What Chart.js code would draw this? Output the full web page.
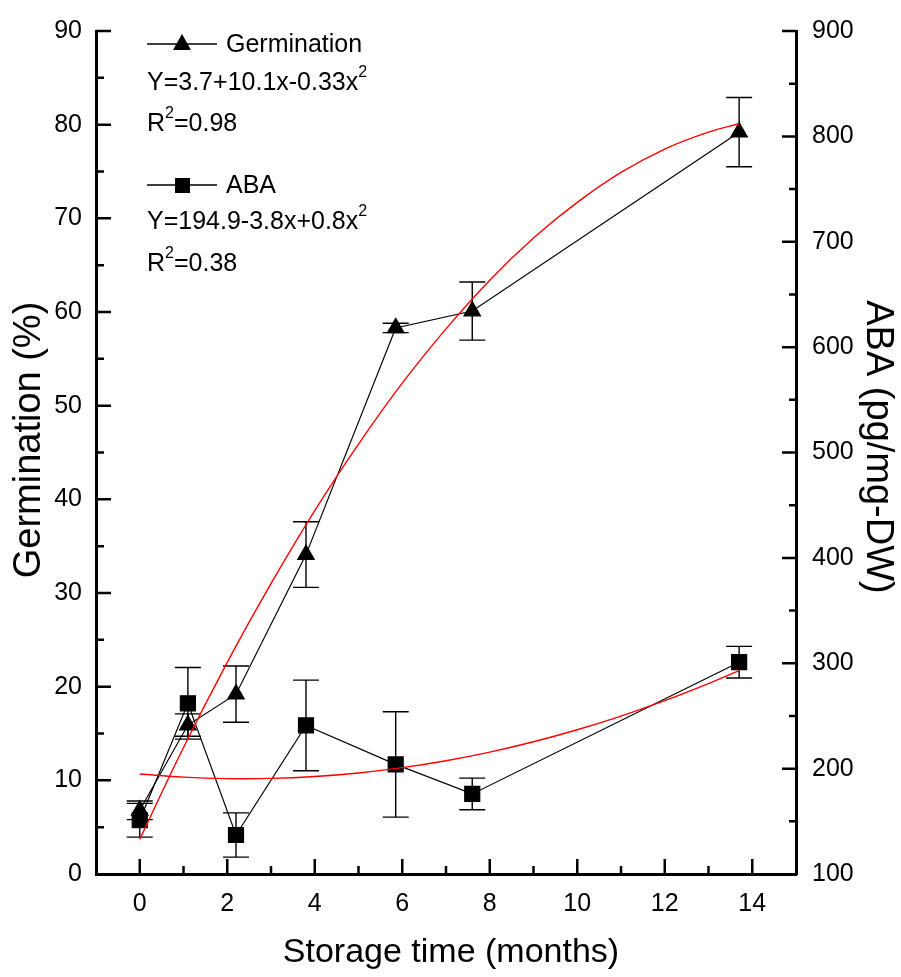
<!DOCTYPE html>
<html>
<head>
<meta charset="utf-8">
<script src="https://cdn.jsdelivr.net/npm/chart.js@4.4.1/dist/chart.umd.min.js"></script>
<style>
  html, body { margin: 0; padding: 0; background: #fff; }
</style>
</head>
<body>
<canvas id="chart" width="901" height="977"></canvas>
<script>
// storage time of each sample (months)
const storageMonths = [0, 1.1, 2.2, 3.8, 5.85, 7.6, 13.7];
const germination = [6.8, 15.9, 19.2, 34.1, 58.3, 60.1, 79.2];
const germinationErr = [1.0, 1.2, 3.0, 3.5, 0.5, 3.1, 3.7];
const aba = [151, 262, 137, 241, 204, 176, 301];
const abaErr = [16, 34, 21, 43, 50, 15, 15];

// red fitted curves
const fitMonths = [0, 1, 2, 3, 4, 5, 6, 7, 8, 9, 10, 11, 12, 13, 13.7];
const germinationFit = [3.7, 13.5, 22.6, 31.0, 38.8, 45.9, 52.4, 58.2, 63.4, 67.9, 71.7, 74.9, 77.4, 79.2, 80.1];
const abaFit = [194.9, 191.9, 190.5, 190.7, 192.5, 195.9, 200.9, 207.5, 215.7, 225.5, 236.9, 249.9, 264.5, 280.7, 293.0];

// tick labels
const xTicks = [0, 2, 4, 6, 8, 10, 12, 14];
const germTicks = [0, 10, 20, 30, 40, 50, 60, 70, 80, 90];
const abaTicks = [100, 200, 300, 400, 500, 600, 700, 800, 900];

const FONT = 'Liberation Sans, Arial, sans-serif';

const toPoints = (xs, ys) => xs.map((x, i) => ({ x: x, y: ys[i] }));

// vertical error bars with caps
const errorBars = {
  id: 'errorBars',
  beforeDatasetsDraw(chart) {
    const ctx = chart.ctx;
    const xs = chart.scales.x;
    const sets = [
      { scale: chart.scales.y, vals: germination, errs: germinationErr },
      { scale: chart.scales.y2, vals: aba, errs: abaErr }
    ];
    ctx.save();
    ctx.strokeStyle = '#000';
    ctx.lineWidth = 1.4;
    sets.forEach(s => {
      s.vals.forEach((v, i) => {
        const px = xs.getPixelForValue(storageMonths[i]);
        const top = s.scale.getPixelForValue(v + s.errs[i]);
        const bot = s.scale.getPixelForValue(v - s.errs[i]);
        ctx.beginPath();
        ctx.moveTo(px, top); ctx.lineTo(px, bot);
        ctx.moveTo(px - 13, top); ctx.lineTo(px + 13, top);
        ctx.moveTo(px - 13, bot); ctx.lineTo(px + 13, bot);
        ctx.stroke();
      });
    });
    ctx.restore();
  }
};

// inward tick marks, titles and the legend block
const decorations = {
  id: 'decorations',
  afterDraw(chart) {
    const ctx = chart.ctx;
    const a = chart.chartArea;
    const x = chart.scales.x, y = chart.scales.y, y2 = chart.scales.y2;
    ctx.save();
    ctx.strokeStyle = '#000';
    ctx.lineWidth = 2.5;
    ctx.beginPath();
    for (let v = 0; v <= 14; v++) {
      const px = x.getPixelForValue(v);
      const len = v % 2 === 0 ? 15 : 8;
      ctx.moveTo(px, a.bottom); ctx.lineTo(px, a.bottom - len);
    }
    for (let v = 5; v <= 90; v += 5) {
      const py = y.getPixelForValue(v);
      const len = v % 10 === 0 ? 15 : 8;
      ctx.moveTo(a.left, py); ctx.lineTo(a.left + len, py);
    }
    for (let v = 150; v <= 900; v += 50) {
      const py = y2.getPixelForValue(v);
      const len = v % 100 === 0 ? 14 : 7;
      ctx.moveTo(a.right, py); ctx.lineTo(a.right - len, py);
    }
    ctx.stroke();

    // axis titles
    ctx.fillStyle = '#000';
    ctx.textAlign = 'center';
    ctx.textBaseline = 'middle';
    ctx.font = '34px ' + FONT;
    ctx.fillText('Storage time (months)', 451, 953);
    ctx.font = '38px ' + FONT;
    ctx.save();
    ctx.translate(30, 440);
    ctx.rotate(-Math.PI / 2);
    ctx.fillText('Germination (%)', 0, 0);
    ctx.restore();
    ctx.save();
    ctx.translate(877, 447);
    ctx.rotate(Math.PI / 2);
    ctx.fillText('ABA (pg/mg-DW)', 0, 0);
    ctx.restore();

    // legend
    ctx.lineWidth = 1.3;
    ctx.beginPath();
    ctx.moveTo(147, 44); ctx.lineTo(217, 44);
    ctx.moveTo(147, 185); ctx.lineTo(217, 185);
    ctx.stroke();
    ctx.beginPath();
    ctx.moveTo(182, 34); ctx.lineTo(191, 50); ctx.lineTo(173, 50); ctx.closePath();
    ctx.fill();
    ctx.fillRect(175, 178, 15, 15);

    ctx.textAlign = 'left';
    ctx.font = '25px ' + FONT;
    ctx.fillText('Germination', 226, 45);
    ctx.fillText('ABA', 226, 186);
    const sup = (base, tail, bx, by) => {
      ctx.font = '25px ' + FONT;
      ctx.fillText(base, bx, by);
      let w = ctx.measureText(base).width;
      ctx.font = '16px ' + FONT;
      ctx.fillText('2', bx + w, by - 10);
      w += ctx.measureText('2').width;
      ctx.font = '25px ' + FONT;
      if (tail) ctx.fillText(tail, bx + w, by);
    };
    sup('Y=3.7+10.1x-0.33x', '', 147, 83);
    sup('R', '=0.98', 147, 124);
    sup('Y=194.9-3.8x+0.8x', '', 147, 222);
    sup('R', '=0.38', 147, 264);
    ctx.restore();
  }
};

const axisBorder = { display: true, width: 3, color: '#000' };
const tickFont = { family: FONT, size: 25 };

new Chart(document.getElementById('chart'), {
  type: 'scatter',
  data: {
    datasets: [
      {
        label: 'Germination fit',
        data: toPoints(fitMonths, germinationFit),
        yAxisID: 'y',
        showLine: true,
        borderColor: '#ff0000',
        borderWidth: 1.4,
        pointRadius: 0,
        tension: 0.4,
        order: 0
      },
      {
        label: 'ABA fit',
        data: toPoints(fitMonths, abaFit),
        yAxisID: 'y2',
        showLine: true,
        borderColor: '#ff0000',
        borderWidth: 1.4,
        pointRadius: 0,
        tension: 0.4,
        order: 0
      },
      {
        label: 'Germination',
        data: toPoints(storageMonths, germination),
        yAxisID: 'y',
        showLine: true,
        borderColor: '#000',
        backgroundColor: '#000',
        borderWidth: 1.2,
        pointStyle: 'triangle',
        pointRadius: 9.5,
        order: 1
      },
      {
        label: 'ABA',
        data: toPoints(storageMonths, aba),
        yAxisID: 'y2',
        showLine: true,
        borderColor: '#000',
        backgroundColor: '#000',
        borderWidth: 1.2,
        pointStyle: 'rect',
        pointRadius: 10.6,
        order: 1
      }
    ]
  },
  options: {
    responsive: false,
    animation: false,
    layout: { padding: { top: 22, left: 0, right: 0, bottom: 0 } },
    plugins: { legend: { display: false }, tooltip: { enabled: false } },
    scales: {
      x: {
        type: 'linear',
        min: -1,
        max: 15,
        afterBuildTicks: s => { s.ticks = xTicks.map(v => ({ value: v })); },
        afterFit: s => { s.height = 103; },
        grid: { display: false, drawTicks: false },
        border: axisBorder,
        ticks: { color: '#000', font: tickFont, padding: 15, maxRotation: 0 }
      },
      y: {
        position: 'left',
        min: 0,
        max: 90,
        afterBuildTicks: s => { s.ticks = germTicks.map(v => ({ value: v })); },
        afterFit: s => { s.width = 96; },
        grid: { display: false, drawTicks: false },
        border: axisBorder,
        ticks: { color: '#000', font: tickFont, padding: 14 }
      },
      y2: {
        position: 'right',
        min: 100,
        max: 900,
        afterBuildTicks: s => { s.ticks = abaTicks.map(v => ({ value: v })); },
        afterFit: s => { s.width = 105; },
        grid: { display: false, drawTicks: false },
        border: axisBorder,
        ticks: { color: '#000', font: tickFont, padding: 16 }
      }
    }
  },
  plugins: [errorBars, decorations]
});
</script>
</body>
</html>
